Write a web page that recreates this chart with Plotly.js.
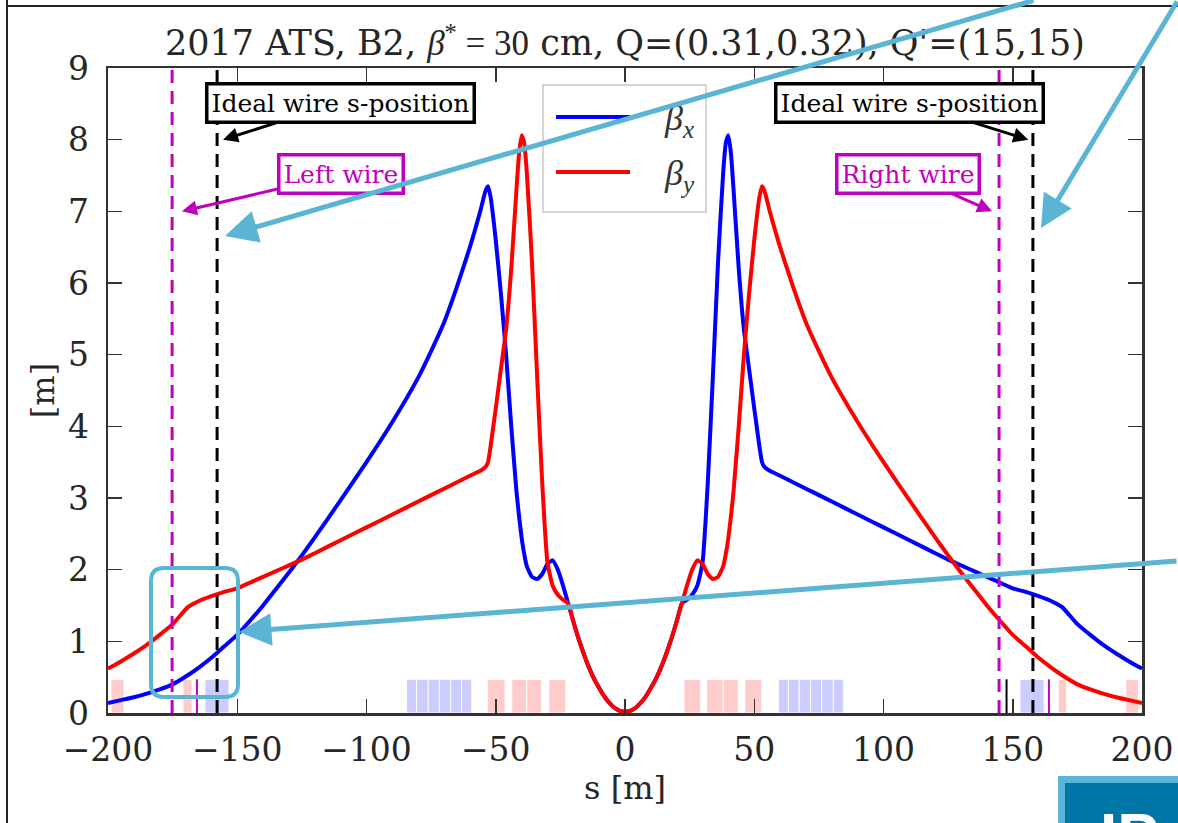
<!DOCTYPE html>
<html>
<head>
<meta charset="utf-8">
<script src="https://cdn.plot.ly/plotly-3.0.1.min.js"></script>
<style>html,body{margin:0;padding:0;background:#fff;}#chart{width:1178px;height:823px;}</style>
</head>
<body>
<div id="chart"></div>
<script>
// ---------------- data ----------------
const sGrid = [-200,-195,-190,-185,-180,-175,-169,-165,-160,-155,
  -150,-145,-140,-135,-130,-125,-120,-110,-100,-90,
  -80,-75,-70,-65,-60,-56,-54,-53,-52,-50,
  -48,-46,-44,-42,-41,-40,-39,-38,-36,-34,
  -32,-30,-28,-26,-24,-22,-20,-18,-16,-14,
  -12,-10,-8,-6,-4,-2,0,
  2,4,6,8,10,12,14,16,18,20,
  22,24,26,28,30,32,34,36,38,39,
  40,41,42,44,46,48,50,52,53,54,
  56,60,65,70,75,80,90,100,110,120,
  125,130,135,140,145,150,155,160,165,169,
  175,180,185,190,195,200];

const betaX = [0.14,0.18,0.22,0.27,0.33,0.40,0.53,0.63,0.77,0.93,
  1.09,1.29,1.50,1.73,1.96,2.20,2.45,2.97,3.50,4.06,
  4.68,5.05,5.45,5.95,6.50,7.00,7.28,7.35,7.20,6.60,
  5.85,5.00,4.00,3.10,2.75,2.45,2.22,2.05,1.90,1.87,
  1.94,2.08,2.13,2.00,1.78,1.53,1.28,1.04,0.83,0.64,
  0.48,0.35,0.23,0.14,0.07,0.03,0.02,
  0.03,0.07,0.14,0.23,0.35,0.48,0.64,0.83,1.04,1.28,
  1.53,1.58,1.65,1.78,2.10,3.20,4.70,6.30,7.55,7.95,
  8.06,7.80,7.30,6.20,5.35,4.80,4.25,3.72,3.50,3.43,
  3.38,3.31,3.22,3.13,3.04,2.95,2.77,2.59,2.41,2.23,
  2.14,2.06,1.98,1.90,1.82,1.74,1.69,1.63,1.56,1.48,
  1.24,1.09,0.95,0.83,0.72,0.62];

const betaY = [0.62,0.72,0.83,0.95,1.09,1.24,1.48,1.56,1.63,1.69,
  1.74,1.82,1.90,1.98,2.06,2.14,2.23,2.41,2.59,2.77,
  2.95,3.04,3.13,3.22,3.31,3.38,3.43,3.50,3.72,4.25,
  4.80,5.35,6.20,7.30,7.80,8.06,7.95,7.55,6.30,4.70,
  3.20,2.10,1.78,1.65,1.58,1.53,1.28,1.04,0.83,0.64,
  0.48,0.35,0.23,0.14,0.07,0.03,0.02,
  0.03,0.07,0.14,0.23,0.35,0.48,0.64,0.83,1.04,1.28,
  1.53,1.78,2.00,2.13,2.08,1.94,1.87,1.90,2.05,2.22,
  2.45,2.75,3.10,4.00,5.00,5.85,6.60,7.20,7.35,7.28,
  7.00,6.50,5.95,5.45,5.05,4.68,4.06,3.50,2.97,2.45,
  2.20,1.96,1.73,1.50,1.29,1.09,0.93,0.77,0.63,0.53,
  0.40,0.33,0.27,0.22,0.18,0.14];

// magnet elements (start, end) in s [m]
const quadStart = [-198.8,-171.0,-53.3,-43.8,-38.0,-29.4,22.8,31.6,38.0,46.4,167.6,193.7];
const quadEnd   = [-193.8,-167.5,-46.4,-38.0,-32.3,-22.9,29.3,38.0,43.8,52.9,170.8,198.6];
const dipStart  = [-162.5,-84.5,-80.6,-76.1,-71.8,-67.4,-63.2,59.3,63.2,67.4,71.8,76.1,80.6,152.8];
const dipEnd    = [-153.2,-80.6,-76.1,-71.8,-67.4,-63.2,-59.3,63.2,67.4,71.8,76.1,80.6,84.5,162.1];
const elemHeight = 0.47;

// thin element markers
const wireMarkS = [-165.6, 164.0];
const otherMarkS = [147.6];

// wire positions
const wireS  = [-175.2, 144.7];
const idealS = [-157.8, 157.8];

const xTicks = [-200,-150,-100,-50,0,50,100,150,200];
const yTicks = [0,1,2,3,4,5,6,7,8,9];

// ---------------- helpers ----------------
const L=108, R=1142, T=68, B=713;
function px(x){return (x-L)/(R-L);}
function py(y){return (B-y)/(B-T);}
function mid(a,b){return a.map((v,i)=>(v+b[i])/2);}
function wid(a,b){return a.map((v,i)=>b[i]-v);}
function vsegs(xs,y0,y1){const X=[],Y=[];xs.forEach(x=>{X.push(x,x,null);Y.push(y0,y1,null);});return {X,Y};}

const FONT = 'DejaVu Serif, serif';
const MAG = '#bf00bf';
const CY = '#5ab4d4';

const traces = [];
traces.push({type:'bar', x:mid(quadStart,quadEnd), width:wid(quadStart,quadEnd),
  y:quadStart.map(()=>elemHeight), marker:{color:'rgba(255,0,0,0.2)', line:{color:'rgba(255,255,255,0.9)',width:1}},
  hoverinfo:'skip', showlegend:false});
traces.push({type:'bar', x:mid(dipStart,dipEnd), width:wid(dipStart,dipEnd),
  y:dipStart.map(()=>elemHeight), marker:{color:'rgba(0,0,255,0.2)', line:{color:'rgba(255,255,255,0.9)',width:1}},
  hoverinfo:'skip', showlegend:false});
let m1 = vsegs(wireMarkS,0,elemHeight);
traces.push({type:'scatter',mode:'lines',x:m1.X,y:m1.Y,line:{color:MAG,width:2},showlegend:false,hoverinfo:'skip'});
let m2 = vsegs(otherMarkS,0,elemHeight);
traces.push({type:'scatter',mode:'lines',x:m2.X,y:m2.Y,line:{color:'#000',width:2},showlegend:false,hoverinfo:'skip'});
traces.push({type:'scatter',mode:'lines',x:sGrid,y:betaX,name:'β_x',line:{color:'#0000ff',width:4,shape:'spline',smoothing:0.5},showlegend:false});
traces.push({type:'scatter',mode:'lines',x:sGrid,y:betaY,name:'β_y',line:{color:'#ff0000',width:4,shape:'spline',smoothing:0.5},showlegend:false});
let w1 = vsegs(wireS,0,9);
traces.push({type:'scatter',mode:'lines',x:w1.X,y:w1.Y,line:{color:MAG,width:3,dash:'13px,8px'},showlegend:false,hoverinfo:'skip'});
let w2 = vsegs(idealS,0,9);
traces.push({type:'scatter',mode:'lines',x:w2.X,y:w2.Y,line:{color:'#000',width:3,dash:'13px,8px'},showlegend:false,hoverinfo:'skip'});

// rounded rect path in paper coords from pixel box
function rrect(x0,y0,x1,y1,r){
  const P=(x,y)=>px(x)+','+py(y);
  return 'M'+P(x0+r,y0)+' L'+P(x1-r,y0)+' Q'+P(x1,y0)+' '+P(x1,y0+r)+
    ' L'+P(x1,y1-r)+' Q'+P(x1,y1)+' '+P(x1-r,y1)+' L'+P(x0+r,y1)+' Q'+P(x0,y1)+' '+P(x0,y1-r)+
    ' L'+P(x0,y0+r)+' Q'+P(x0,y0)+' '+P(x0+r,y0)+' Z';
}

const shapes = [
  // manual legend
  {type:'rect',xref:'paper',yref:'paper',x0:px(543),x1:px(706),y0:py(212),y1:py(85),line:{color:'#c8c8c8',width:1.5},fillcolor:'rgba(255,255,255,0.9)',layer:'above'},
  {type:'line',xref:'paper',yref:'paper',x0:px(556),x1:px(630),y0:py(117),y1:py(117),line:{color:'#0000ff',width:4},layer:'above'},
  {type:'line',xref:'paper',yref:'paper',x0:px(556),x1:px(630),y0:py(172),y1:py(172),line:{color:'#ff0000',width:4},layer:'above'},
  // cyan highlight box
  {type:'path',xref:'paper',yref:'paper',path:rrect(151,568,238,697,13),line:{color:CY,width:4},layer:'above'},
  // slide frame
  {type:'line',xref:'paper',yref:'paper',x0:px(7),x1:px(7),y0:py(0),y1:py(823),line:{color:'#222',width:2},layer:'above'},
  {type:'line',xref:'paper',yref:'paper',x0:px(7),x1:px(1178),y0:py(6),y1:py(6),line:{color:'#222',width:2},layer:'above'},
  // logo box
  {type:'rect',xref:'paper',yref:'paper',x0:px(1061.5),x1:px(1200),y0:py(850),y1:py(779.5),line:{color:CY,width:7},fillcolor:'#0076a6',layer:'above'}
];

const boxCommon = {borderwidth:3.5,borderpad:3,bgcolor:'#fff',arrowwidth:3,arrowhead:2,arrowsize:1,showarrow:true,xref:'x',yref:'y'};
const annotations = [
  {xref:'paper',yref:'paper',x:px(662),y:py(120),xanchor:'left',yanchor:'middle',showarrow:false,
   text:'<i>β</i><sub><i>x</i></sub>',font:{family:'Liberation Serif, serif',size:36,color:'#333'}},
  {xref:'paper',yref:'paper',x:px(662),y:py(175),xanchor:'left',yanchor:'middle',showarrow:false,
   text:'<i>β</i><sub><i>y</i></sub>',font:{family:'Liberation Serif, serif',size:36,color:'#333'}},
  // wire boxes
  Object.assign({x:-155.5,y:8,ax:117,ay:-37,text:'Ideal wire s-position',font:{family:FONT,size:25,color:'#000'},bordercolor:'#000',arrowcolor:'#000'},boxCommon),
  Object.assign({x:156,y:8,ax:-119,ay:-37,text:'Ideal wire s-position',font:{family:FONT,size:25,color:'#000'},bordercolor:'#000',arrowcolor:'#000'},boxCommon),
  Object.assign({x:-171.4,y:7,ax:159,ay:-37,text:'Left wire',font:{family:FONT,size:25,color:MAG},bordercolor:MAG,arrowcolor:MAG},boxCommon),
  Object.assign({x:142,y:7,ax:-84,ay:-37,text:'Right wire',font:{family:FONT,size:25,color:MAG},bordercolor:MAG,arrowcolor:MAG},boxCommon),
  // cyan slide arrows
  {xref:'paper',yref:'paper',x:px(225),y:py(236),ax:810,ay:-240,text:'',showarrow:true,arrowcolor:CY,arrowwidth:5,arrowhead:2,arrowsize:1.3,standoff:0},
  {xref:'paper',yref:'paper',x:px(1041),y:py(228),ax:164,ay:-232,text:'',showarrow:true,arrowcolor:CY,arrowwidth:5,arrowhead:2,arrowsize:1.3,standoff:0},
  {xref:'paper',yref:'paper',x:px(239),y:py(632),ax:961,ay:-71,text:'',showarrow:true,arrowcolor:CY,arrowwidth:5,arrowhead:2,arrowsize:1.3,standoff:0},
  // logo text
  {xref:'paper',yref:'paper',x:px(1098),y:py(798),xanchor:'left',yanchor:'top',showarrow:false,text:'<b>IP</b>',
   font:{family:'Liberation Sans, sans-serif',size:62,color:'#fff'}}
];

const axisCommon = {showline:true,linecolor:'#333',linewidth:2.5,mirror:'ticks',ticks:'inside',ticklen:14,
  tickwidth:1.5,tickcolor:'#333',showgrid:false,zeroline:false,tickfont:{family:FONT,size:33,color:'#262626'}};

const layout = {
  width:1178,height:823,margin:{l:L,r:1178-R,t:T,b:823-B,pad:0},
  paper_bgcolor:'#fff',plot_bgcolor:'#fff',barmode:'overlay',bargap:0,
  title:{text:'2017 ATS, B2, <span style="font-family:Liberation Serif"><i>β</i><sup>*</sup> = 30</span> cm, Q=(0.31,0.32), Q\'=(15,15)',
    font:{family:FONT,size:35,color:'#262626'},x:0.5,xref:'paper',xanchor:'center',y:(823-43)/823,yanchor:'middle'},
  xaxis:Object.assign({},axisCommon,{range:[-200,200],tickvals:xTicks,ticktext:xTicks.map(v=>v<0?'\u2212'+(-v):String(v)),ticklabelstandoff:6,
    title:{text:'s [m]',font:{family:FONT,size:32,color:'#262626'},standoff:8}}),
  yaxis:Object.assign({},axisCommon,{range:[0,9],tickvals:yTicks,ticklabelstandoff:10,
    title:{text:'[m]',font:{family:FONT,size:32,color:'#262626'},standoff:4}}),
  shapes:shapes,annotations:annotations,showlegend:false
};

Plotly.newPlot('chart',traces,layout,{displayModeBar:false,staticPlot:true});
</script>
</body>
</html>
